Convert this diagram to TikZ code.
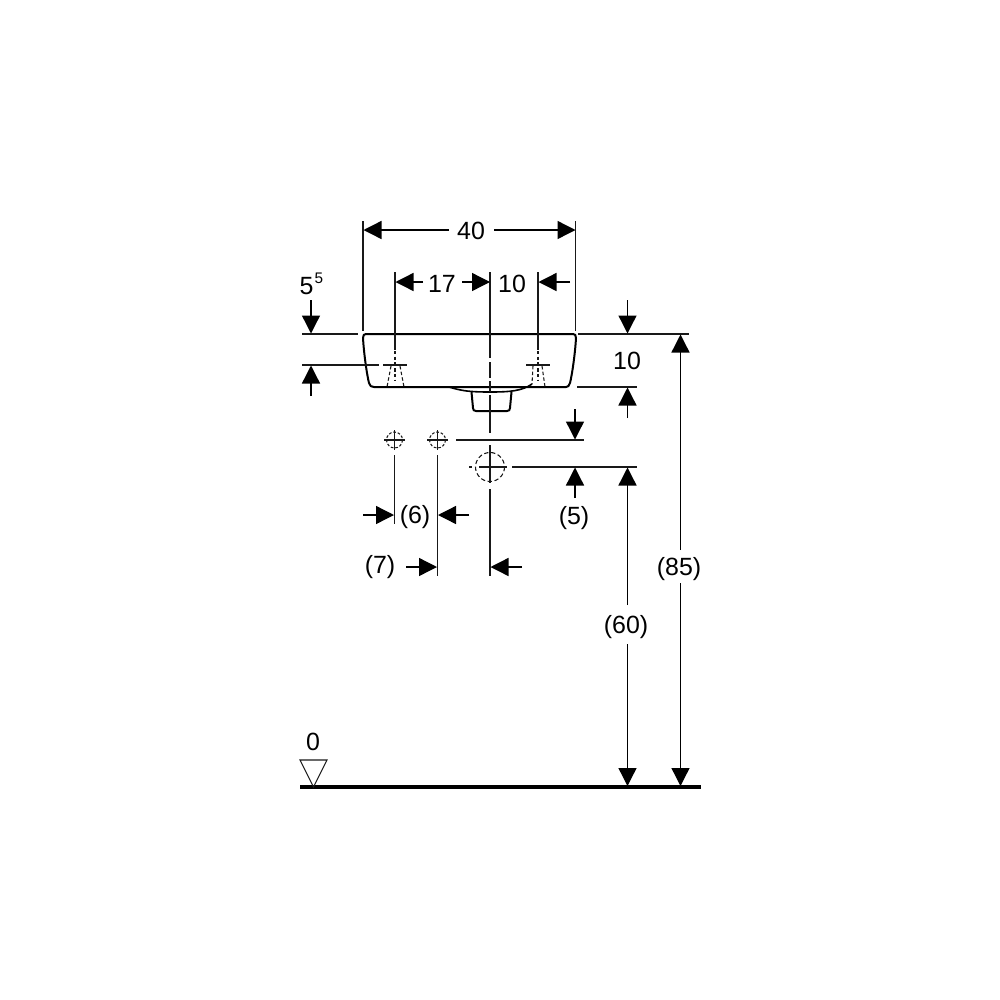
\documentclass[tikz,border=0pt]{standalone}
\usepackage{fontspec}
\setmainfont{Liberation Sans}
\usetikzlibrary{arrows.meta}
\tikzset{
  dimline/.style={line width=1pt,draw=black!90},
  dimarrow/.style={line width=1pt,draw=black,-{Triangle[length=13.5pt,width=13.5pt]}},
  contour/.style={line width=1.5pt,draw=black,line join=round},
  thin contour/.style={line width=0.9pt,draw=black!90},
  hidden/.style={line width=0.8pt,draw=black!90,dash pattern=on 2.6pt off 1.7pt},
  dimtext/.style={font=\fontsize{18.7pt}{20pt}\selectfont,inner sep=0pt,text=black},
  suptext/.style={font=\fontsize{11.5pt}{12pt}\selectfont,inner sep=0pt,text=black}
}
\begin{document}
\begin{tikzpicture}[x=0.75pt,y=-0.75pt]
\useasboundingbox[fill=white] (0,0) rectangle (1000,1000);

% ---- washbasin outline
\draw[contour] (363,338) .. controls (363,335) and (364,334) .. (366,334) -- (573,334)
  .. controls (575,334) and (576,335) .. (576,338)
  .. controls (575,355) and (572,375) .. (570,383)
  .. controls (569,386) and (568,387) .. (566,387) -- (374,387)
  .. controls (371,387) and (370,386) .. (369,383)
  .. controls (367,375) and (364,355) .. (363,338) -- cycle;
\draw[contour,line width=1.2pt] (449,387) .. controls (462,391) and (470,392) .. (490,392)
  .. controls (510,392) and (522,391) .. (532,384);
\draw[contour] (471.5,392) -- (473,408) .. controls (473,410) and (474,411) .. (476,411)
  -- (507,411) .. controls (509,411) and (510,410) .. (510,408) -- (511.5,392);

% ---- taps
\draw[thin contour] (383,365) -- (407,365);
\draw[thin contour] (526,365) -- (550,365);
\draw[hidden] (391,366) -- (387,387);
\draw[hidden] (400,366) -- (404,387);
\draw[hidden] (533,366) -- (532,384);
\draw[hidden] (542,366) -- (545,387);
\draw[hidden] (395,351) -- (395,380);
\draw[hidden] (538,351) -- (538,380);

% ---- wall fixing points
\draw[hidden,dash pattern=on 2pt off 1.4pt] (394.5,440) circle (8);
\draw[thin contour] (384,440) -- (405,440) (394.5,430) -- (394.5,450);
\draw[hidden,dash pattern=on 2pt off 1.4pt] (437.5,440) circle (8);
\draw[thin contour] (427,440) -- (448,440) (437.5,430) -- (437.5,450);
\draw[hidden,dash pattern=on 3.2pt off 2pt] (490,467) circle (14.5);
\draw[thin contour] (479,467) -- (507,467);
\draw[thin contour] (469,467) -- (472,467);

% ---- extension lines
\draw[dimline] (363,221) -- (363,331);
\draw[dimline] (575.5,221) -- (575.5,331);
\draw[dimline] (395,272) -- (395,350);
\draw[dimline] (538,272) -- (538,350);
\draw[dimline] (490,272) -- (490,358);
\draw[dimline] (490,362) -- (490,378);
\draw[dimline] (490,381) -- (490,392);
\draw[dimline] (490,395) -- (490,433);
\draw[dimline] (490,445) -- (490,483);
\draw[dimline] (490,489) -- (490,576);
\draw[dimline] (394.2,455) -- (394.2,524);
\draw[dimline] (437.2,455) -- (437.2,576);
\draw[dimline] (302,334) -- (358,334);
\draw[dimline] (302,365) -- (379,365);
\draw[dimline] (578,334) -- (689,334);
\draw[dimline] (577,387) -- (637,387);
\draw[dimline] (456,440) -- (584,440);
\draw[dimline] (512,467) -- (637,467);

% ---- dimension 40
\node[dimtext] (d40) at (471,231) {40};
\draw[dimarrow] (449,230) -- (363.5,230);
\draw[dimarrow] (494,230) -- (575.5,230);
% ---- dimension 17
\node[dimtext] (d17) at (442,284) {17};
\draw[dimarrow] (423,282) -- (395.5,282);
\draw[dimarrow] (462,282) -- (490,282);
% ---- dimension 10 (tap)
\node[dimtext] (d10a) at (512,284) {10};
\draw[dimarrow] (570,282) -- (538.5,282);
% ---- dimension 5^5
\node[dimtext] (d5) at (306.5,286) {5};
\node[suptext] (d5s) at (319,278) {5};
\draw[dimarrow] (311,300) -- (311,333.5);
\draw[dimarrow] (311,396) -- (311,365.5);
% ---- dimension 10 (basin)
\node[dimtext] (d10b) at (627,361) {10};
\draw[dimarrow] (627.5,300) -- (627.5,333.5);
\draw[dimarrow] (627.5,418) -- (627.5,387.5);
% ---- dimension (5)
\node[dimtext] (d5b) at (574,518) {(5)};
\draw[dimarrow] (575,409) -- (575,439.5);
\draw[dimarrow] (575,498) -- (575,467.5);
% ---- dimension (6)
\node[dimtext] (d6) at (415,517) {(6)};
\draw[dimarrow] (363,515) -- (394,515);
\draw[dimarrow] (469,515) -- (438,515);
% ---- dimension (7)
\node[dimtext] (d7) at (380,567.5) {(7)};
\draw[dimarrow] (406,567) -- (437,567);
\draw[dimarrow] (522,567) -- (490.5,567);
% ---- dimension (60)
\node[dimtext] (d60) at (626,627) {(60)};
\draw[dimarrow] (627.5,605) -- (627.5,467.5);
\draw[dimarrow] (627.5,644) -- (627.5,786);
% ---- dimension (85)
\node[dimtext] (d85) at (679,569) {(85)};
\draw[dimarrow] (680.5,550) -- (680.5,334.5);
\draw[dimarrow] (680.5,583) -- (680.5,786);

% ---- floor level
\draw[line width=2.3pt,draw=black] (300,787) -- (701,787);
\draw[line width=0.8pt,draw=black!90,line join=miter] (300,760) -- (327,760) -- (313.5,787) -- cycle;
\node[dimtext] (d0) at (313,742) {0};
\end{tikzpicture}
\end{document}
